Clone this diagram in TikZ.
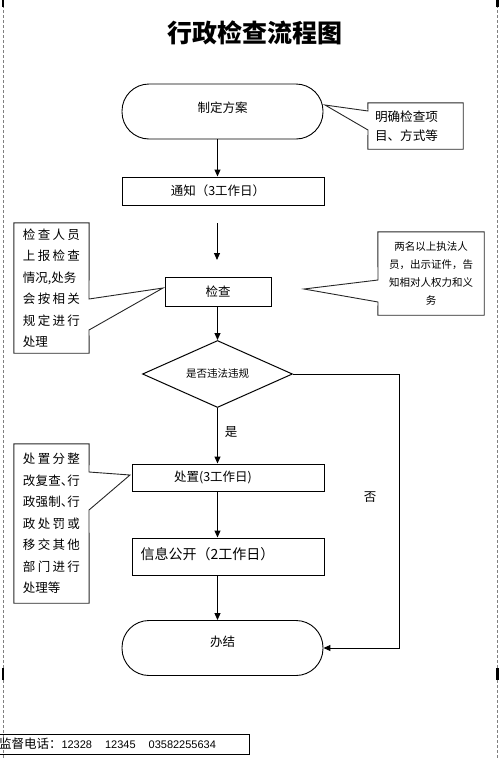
\documentclass[tikz,border=0pt]{standalone}
\usepackage{fontspec}
\setmainfont{Liberation Sans}
\newfontfamily\cjk{Noto Sans CJK SC}
\usetikzlibrary{arrows.meta,shapes.geometric}
\tikzset{
  base/.style={font=\cjk\fontsize{12.5}{15}\selectfont},
  stadium/.style={draw, line width=0.9pt, rounded corners=27pt, minimum width=201pt, minimum height=55pt, inner sep=0pt},
  procbox/.style={draw, line width=1pt, inner sep=0pt},
  callbox/.style={inner sep=0pt, align=left},
  callline/.style={draw=black!85, line width=0.9pt, line join=miter},
  arr/.style={-{Triangle[length=7pt,width=6pt]}, line width=1pt},
  margin/.style={draw=gray, line width=0.8pt, dash pattern=on 3pt off 2pt},
  titlefont/.style={font=\cjk\bfseries\fontsize{25}{25}\selectfont},
}
\begin{document}
\begin{tikzpicture}[x=1pt,y=-1pt]
\useasboundingbox (0,0) rectangle (499,758);

% page margins
\draw[margin] (3,0) -- (3,758);
\draw[margin] (497,0) -- (497,758);
\fill (1.5,0) rectangle (4,7);
\fill (496,0) rectangle (498.5,7);
\fill (1.5,668) rectangle (4,680);
\fill (496,668) rectangle (498.5,680);

% title
\node[titlefont] (title) at (255,33) {行政检查流程图};

% main flow
\node[stadium, label={[base, yshift=4pt]center:制定方案}] (s1) at (222.5,111.5) {};
\node[procbox, minimum width=202pt, minimum height=28pt, label={[base, xshift=-5pt]center:通知（3工作日）}] (n1) at (223,191) {};
\coordinate (a1) at (217,223);
\coordinate (a2) at (217,260);
\node[procbox, base, minimum width=106pt, minimum height=29pt] (k) at (218,291.5) {检查};
\node[draw, line width=1pt, diamond, aspect=2.2, minimum width=150pt, minimum height=67pt, inner sep=0pt, font=\cjk\fontsize{10.5}{12}\selectfont] (d) at (217.5,374) {是否违法违规};
\node[procbox, minimum width=192pt, minimum height=27pt, label={[base, xshift=-15pt]center:处置(3工作日)}] (cz) at (228,477.5) {};
\node[procbox, minimum width=192pt, minimum height=37pt, label={[font=\cjk\fontsize{14}{16}\selectfont, anchor=west, inner sep=0pt, xshift=9pt, yshift=2pt]west:信息公开（2工作日）}] (xx) at (228,556.5) {};
\node[stadium, label={[base, yshift=6pt]center:办结}] (s2) at (222.5,648) {};

% connectors
\draw[arr] (d.south |- s1.south) -- (d.south |- n1.north);
\draw[arr] (a1) -- (a2);
\draw[arr] (d.north |- k.south) -- (d.north);
\draw[arr] (d.south) -- (d.south |- cz.north);
\draw[arr] (d.south |- cz.south) -- (d.south |- xx.north);
\draw[arr] (d.south |- xx.south) -- (d.south |- s2.north);
\coordinate (nc) at (399,374);
\draw[arr] (d.east) -- (nc) |- (s2.east);
\node[base] (yes) at (231,432) {是};
\node[base] (no) at (370,497) {否};

% callout: plan
\node[callbox, minimum width=95pt, minimum height=46pt, text width=81pt, font=\cjk\fontsize{12.6}{19.5}\selectfont] (cr1) at (415.5,126) {明确检查项\\目、方式等};
\coordinate (t3) at (325,105);
\draw[callline] (cr1.north west) -- (cr1.north east) -- (cr1.south east) -- (cr1.south west) -- (368,130) -- (t3) -- (368,111) -- cycle;

% callout: inspection (right)
\node[inner sep=0pt, align=center, minimum width=106pt, minimum height=83pt, text width=100pt, font=\cjk\fontsize{10.5}{18}\selectfont] (cr2) at (431,273.5) {两名以上执法人\\员，出示证件，告\\知相对人权力和义\\务};
\coordinate (t4) at (304,289);
\draw[callline] (cr2.north west) -- (cr2.north east) -- (cr2.south east) -- (cr2.south west) -- (378,302) -- (t4) -- (378,280) -- cycle;

% callout: inspection (left)
\node[callbox, minimum width=75pt, minimum height=130pt, text width=57pt, font=\cjk\fontsize{12.5}{21.5}\selectfont] (cl1) at (51.5,288) {%
\makebox[57pt][s]{检\hfil 查\hfil 人\hfil 员}\\
\makebox[57pt][s]{上\hfil 报\hfil 检\hfil 查}\\
情况,处务\\
\makebox[57pt][s]{会\hfil 按\hfil 相\hfil 关}\\
\makebox[57pt][s]{规\hfil 定\hfil 进\hfil 行}\\
处理};
\coordinate (t1) at (163,288);
\draw[callline] (cl1.north west) -- (cl1.north east) -- (89,299) -- (t1) -- (89,330) -- (cl1.south east) -- (cl1.south west) -- cycle;

% callout: disposal
\node[callbox, minimum width=75pt, minimum height=159pt, text width=57pt, font=\cjk\fontsize{12.5}{21.5}\selectfont] (cl2) at (51.5,523.5) {%
\makebox[57pt][s]{处\hfil 置\hfil 分\hfil 整}\\
\makebox[57pt][s]{改\hfil 复\hfil 查、\kern-6pt 行}\\
\makebox[57pt][s]{政\hfil 强\hfil 制、\kern-6pt 行}\\
\makebox[57pt][s]{政\hfil 处\hfil 罚\hfil 或}\\
\makebox[57pt][s]{移\hfil 交\hfil 其\hfil 他}\\
\makebox[57pt][s]{部\hfil 门\hfil 进\hfil 行}\\
处理等};
\coordinate (t2) at (130,475);
\draw[callline] (cl2.north west) -- (cl2.north east) -- (89,472) -- (t2) -- (89,510) -- (cl2.south east) -- (cl2.south west) -- cycle;

% supervision phone
\node[draw, line width=1pt, minimum width=259pt, minimum height=20pt, text width=241pt, align=left, inner sep=0pt] (ph) at (119.5,744) {{\cjk\fontsize{12.5}{14}\selectfont 监督电话：}{\fontsize{11}{13}\selectfont 12328\hspace{13pt}12345\hspace{13pt}03582255634}};
\end{tikzpicture}
\end{document}
